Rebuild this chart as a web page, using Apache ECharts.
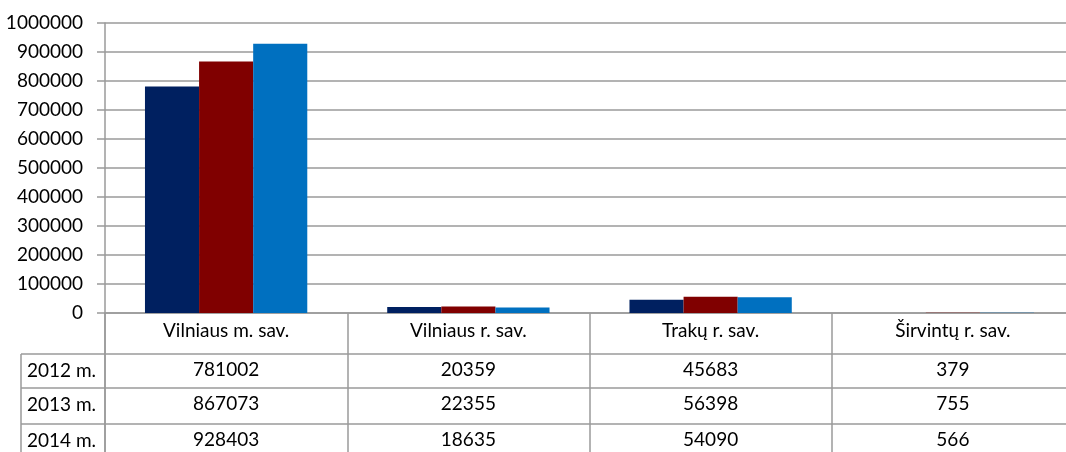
<!DOCTYPE html>
<html>
<head>
<meta charset="utf-8">
<script src="https://cdn.jsdelivr.net/npm/echarts@6/dist/echarts.min.js"></script>
<style>
  html, body { margin: 0; padding: 0; background: #fff; }
  #chart { width: 1066px; height: 452px; }
</style>
</head>
<body>
<div id="chart"></div>
<script>
// savivaldybės
const categories = ['Vilniaus m. sav.', 'Vilniaus r. sav.', 'Trakų r. sav.', 'Širvintų r. sav.']
// metai (eilutės lentelėje)
const seriesNames = ['2012 m.', '2013 m.', '2014 m.']
const values2012 = [781002, 20359, 45683, 379]
const values2013 = [867073, 22355, 56398, 755]
const values2014 = [928403, 18635, 54090, 566]
const yTicks = { min: 0, max: 1000000, interval: 100000 }

const allValues = [values2012, values2013, values2014]
const colors = ['#002060', '#800000', '#0070c0']
const font = 'Lato'
const fontSize = 19
const lineColor = '#9a9a9a'

const chart = echarts.init(document.getElementById('chart'))

// lentelės eilučių ašys (po grafiku)
const rowOffsets = [41, 75, 111]
const rowTicks = [34, 36, 45]
const tableAxes = allValues.map((vals, i) => ({
    type: 'category',
    position: 'bottom',
    offset: rowOffsets[i],
    data: vals.map(v => String(v)),
    axisLine: { show: true, lineStyle: { color: lineColor, width: 1.5 } },
    axisTick: { show: true, length: rowTicks[i], lineStyle: { color: lineColor, width: 1.5 } },
    axisLabel: { fontFamily: font, fontSize: fontSize, color: '#000', margin: 6 },
    splitLine: { show: false }
}))

chart.setOption({
    animation: false,
    textStyle: { fontFamily: font },
    grid: { left: 105, right: -8, top: 23, bottom: 139, outerBoundsMode: 'none', containLabel: false },
    xAxis: [
        {
            type: 'category',
            position: 'bottom',
            data: categories,
            axisLine: { show: true, lineStyle: { color: lineColor, width: 1.5 } },
            axisTick: { show: true, length: 41, lineStyle: { color: lineColor, width: 1.5 } },
            axisLabel: { fontFamily: font, fontSize: fontSize, color: '#000', margin: 8 }
        },
        ...tableAxes
    ],
    yAxis: {
        type: 'value',
        min: yTicks.min,
        max: yTicks.max,
        interval: yTicks.interval,
        axisLine: { show: true, lineStyle: { color: lineColor, width: 1.5 } },
        axisTick: { show: true, length: 8, lineStyle: { color: lineColor, width: 1.5 } },
        axisLabel: { fontFamily: font, fontSize: fontSize, color: '#000', margin: 22, formatter: v => String(v) },
        splitLine: { show: true, lineStyle: { color: lineColor, width: 1.5 } }
    },
    series: allValues.map((vals, i) => ({
        name: seriesNames[i],
        type: 'bar',
        data: vals,
        barGap: '0%',
        barCategoryGap: '33%',
        itemStyle: { color: colors[i] }
    }))
})

// kairysis lentelės stulpelis
const rowLines = [354, 388, 424]
const graphics = []
rowLines.forEach((y, i) => {
    graphics.push({
        type: 'line',
        shape: { x1: 21, y1: y, x2: 105, y2: y },
        style: { stroke: lineColor, lineWidth: 1.5 }
    })
    graphics.push({
        type: 'text',
        x: 27,
        y: y + 17,
        style: { text: seriesNames[i], fontFamily: font, fontSize: fontSize, fill: '#000', verticalAlign: 'middle' }
    })
})
graphics.push({
    type: 'line',
    shape: { x1: 21, y1: 354, x2: 21, y2: 452 },
    style: { stroke: lineColor, lineWidth: 1.5 }
})
graphics.push({
    type: 'line',
    shape: { x1: 105, y1: 313, x2: 105, y2: 452 },
    style: { stroke: lineColor, lineWidth: 1.5 }
})
chart.setOption({ graphic: graphics })
</script>
</body>
</html>
